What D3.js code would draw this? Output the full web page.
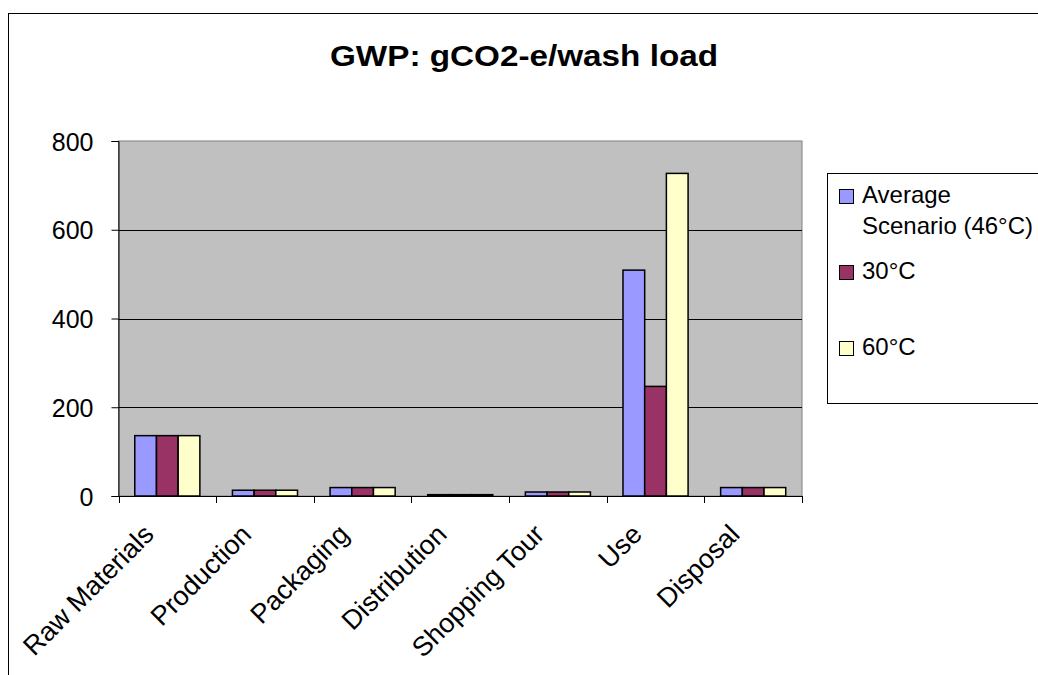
<!DOCTYPE html>
<html lang="en">
<head>
    <meta charset="UTF-8">
    <title>GWP: gCO2-e/wash load</title>
    <script src="https://d3js.org/d3.v7.min.js"></script>
    <style>
        body { margin: 0; background: #fff; overflow: hidden; }
        text { font-family: "Liberation Sans", Arial, sans-serif; fill: #000; }
    </style>
</head>
<body>
    <svg id="chart"></svg>
    <script>
        const categories = ['Raw Materials', 'Production', 'Packaging', 'Distribution', 'Shopping Tour', 'Use', 'Disposal'];
        const seriesNames = ['Average Scenario (46°C)', '30°C', '60°C'];
        const avgValues = [136, 13, 19, 3, 9, 509, 19];
        const c30Values = [136, 13, 19, 3, 9, 247, 19];
        const c60Values = [136, 13, 19, 3, 9, 727, 19];
        const yTicks = [0, 200, 400, 600, 800];
        const colors = ['#9999ff', '#993366', '#ffffcc'];

        const width = 1038, height = 675;
        const svg = d3.select('#chart').attr('width', width).attr('height', height);

        // outer chart border (runs off right and bottom)
        svg.append('rect')
            .attr('x', 8.5).attr('y', 13.5)
            .attr('width', 1100).attr('height', 800)
            .attr('fill', '#fff').attr('stroke', '#000').attr('stroke-width', 1);

        const plot = { left: 118.5, right: 802, top: 141, bottom: 496 };

        const x0 = d3.scaleBand().domain(categories).range([plot.left, plot.right]).paddingInner(0).paddingOuter(0);
        // Excel gap width 150%: 3 bars + 1.5 bar widths of gap per category
        const bw = x0.bandwidth() / 4.5;
        const y = d3.scaleLinear().domain([0, 800]).range([plot.bottom, plot.top]);

        // plot area
        svg.append('rect')
            .attr('x', plot.left).attr('y', plot.top)
            .attr('width', plot.right - plot.left).attr('height', plot.bottom - plot.top)
            .attr('fill', '#c0c0c0').attr('stroke', '#808080');

        // gridlines
        svg.selectAll('.grid').data(yTicks.filter(d => d > 0 && d < 800)).enter().append('line')
            .attr('x1', plot.left).attr('x2', plot.right)
            .attr('y1', d => Math.round(y(d)) + 0.5).attr('y2', d => Math.round(y(d)) + 0.5)
            .attr('stroke', '#000');

        const rows = categories.map((c, i) => ({ cat: c, vals: [avgValues[i], c30Values[i], c60Values[i]] }));

        const groups = svg.selectAll('.grp').data(rows).enter().append('g')
            .attr('transform', d => `translate(${x0(d.cat) + bw * 0.75},0)`);

        groups.selectAll('rect').data(d => d.vals).enter().append('rect')
            .attr('x', (d, i) => i * bw)
            .attr('y', d => y(d))
            .attr('width', bw)
            .attr('height', d => plot.bottom - y(d))
            .attr('fill', (d, i) => colors[i])
            .attr('stroke', '#000').attr('stroke-width', 1.5);

        // y axis
        const yAxis = svg.append('g')
            .attr('transform', `translate(${plot.left},0)`)
            .call(d3.axisLeft(y).tickValues(yTicks).tickSize(7).tickPadding(18));
        yAxis.select('.domain').attr('stroke', '#000');
        yAxis.selectAll('.tick line').attr('stroke', '#000');
        yAxis.selectAll('text')
            .attr('font-family', '"Liberation Sans", Arial, sans-serif')
            .attr('font-size', 25).attr('dy', '0.36em');

        // x axis
        const xAxis = svg.append('g')
            .attr('transform', `translate(0,${plot.bottom})`)
            .call(d3.axisBottom(x0).tickSize(0).tickFormat(''));
        xAxis.select('.domain').attr('stroke', '#000');
        const edges = d3.range(categories.length + 1).map(i => plot.left + i * x0.step());
        svg.selectAll('.xtick').data(edges).enter().append('line')
            .attr('x1', d => Math.round(d) + 0.5).attr('x2', d => Math.round(d) + 0.5)
            .attr('y1', plot.bottom).attr('y2', plot.bottom + 7)
            .attr('stroke', '#000');

        svg.selectAll('.xlab').data(categories).enter().append('text')
            .attr('transform', d => `translate(${x0(d) + x0.bandwidth() / 2 - 12},${plot.bottom + 40}) rotate(-45)`)
            .attr('text-anchor', 'end')
            .attr('font-size', 27)
            .text(d => d);

        // title
        svg.append('text')
            .attr('x', 524).attr('y', 66)
            .attr('text-anchor', 'middle')
            .attr('font-size', 29).attr('font-weight', 'bold')
            .attr('textLength', 388).attr('lengthAdjust', 'spacingAndGlyphs')
            .text('GWP: gCO2-e/wash load');

        // legend
        svg.append('rect')
            .attr('x', 827.5).attr('y', 173.5).attr('width', 300).attr('height', 230)
            .attr('fill', '#fff').attr('stroke', '#000');
        const legendY = [203, 279, 355];
        const lg = svg.selectAll('.lg').data(seriesNames).enter().append('g')
            .attr('transform', (d, i) => `translate(839,${legendY[i]})`);
        lg.append('rect')
            .attr('x', 0.5).attr('y', -13.5).attr('width', 14).attr('height', 14)
            .attr('fill', (d, i) => colors[i]).attr('stroke', '#000');
        lg.append('text')
            .attr('x', 23).attr('y', 0)
            .attr('font-size', 24)
            .each(function (d) {
                const t = d3.select(this);
                const parts = d.startsWith('Average') ? ['Average', 'Scenario (46°C)'] : [d];
                parts.forEach((p, k) => t.append('tspan').attr('x', 23).attr('dy', k === 0 ? 0 : 31).text(p));
            });
    </script>
</body>
</html>
